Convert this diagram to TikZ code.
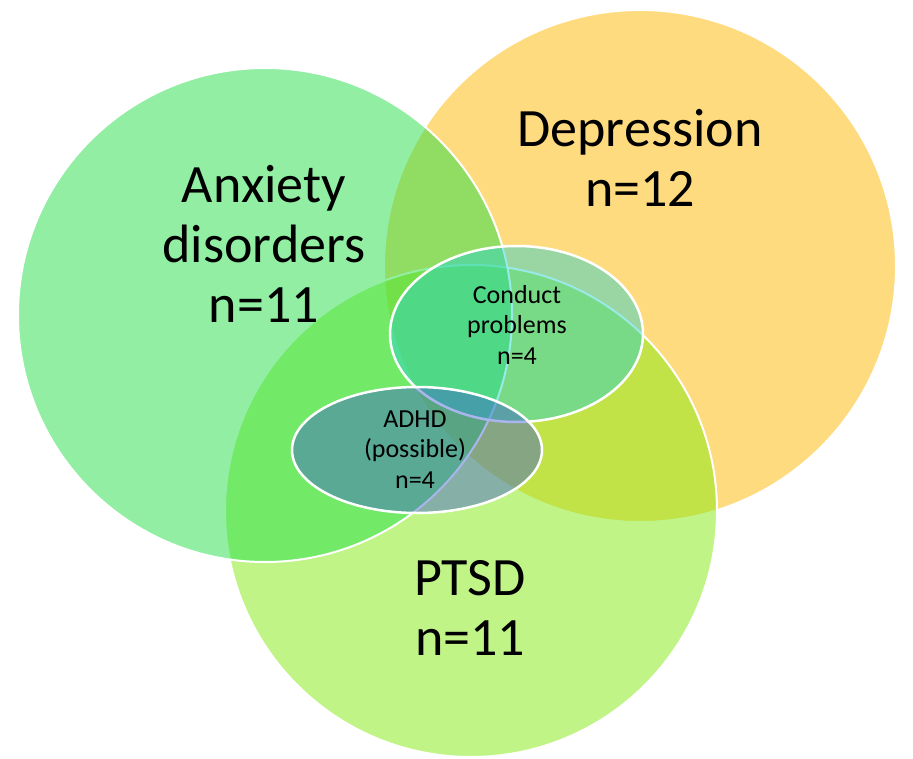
\documentclass[tikz,border=0pt]{standalone}
\usepackage{fontspec}
\setmainfont{Carlito}
\usetikzlibrary{shapes.geometric}

% set colours (drawn at half opacity over white)
\definecolor{depfill}{RGB}{255,185,0}
\definecolor{ptsdfill}{RGB}{133,235,17}
\definecolor{anxfill}{RGB}{37,223,73}
\definecolor{conductfill}{RGB}{42,210,204}
\definecolor{adhdfill}{RGB}{57,85,211}

\begin{document}
\begin{tikzpicture}[x=1pt, y=-1pt,
  setcircle/.style={circle, inner sep=0pt, fill opacity=0.5, draw=white, line width=2pt},
  subset/.style={ellipse, inner sep=0pt, draw=white, line width=2.5pt},
  bigtext/.style={font=\fontsize{54}{60}\selectfont, align=center, text=black, inner sep=0pt},
  smalltext/.style={font=\fontsize{26}{30.5}\selectfont, align=center, text=black, inner sep=0pt}]

\useasboundingbox (0,0) rectangle (913,759);
\fill[white] (0,0) rectangle (913,759);

% the three main sets
\node[setcircle, fill=depfill,  minimum size=512pt] (dep)  at (640,266) {};
\node[setcircle, fill=ptsdfill, minimum size=492pt] (ptsd) at (471,511) {};
\node[setcircle, fill=anxfill,  minimum size=494pt] (anx)  at (265,315) {};

% the two smaller sets
\node[subset, fill=conductfill, fill opacity=0.48,
      minimum width=253pt, minimum height=176pt] (cond) at (516.5,334) {};
\node[subset, fill=adhdfill, fill opacity=0.43,
      minimum width=250pt, minimum height=126pt] (adhd) at (417,450) {};

% labels (base anchor sits on the last line)
\node[bigtext, anchor=base] (anxlabel)  at (264,323) {Anxiety\\disorders\\n=11};
\node[bigtext, anchor=base] (deplabel)  at (640,207) {Depression\\n=12};
\node[bigtext, anchor=base] (ptsdlabel) at (470,655) {PTSD\\n=11};
\node[smalltext, anchor=base] (condlabel) at (517,364) {Conduct\\problems\\n=4};
\node[smalltext, anchor=base] (adhdlabel) at (415,488) {ADHD\\(possible)\\n=4};

\end{tikzpicture}
\end{document}
